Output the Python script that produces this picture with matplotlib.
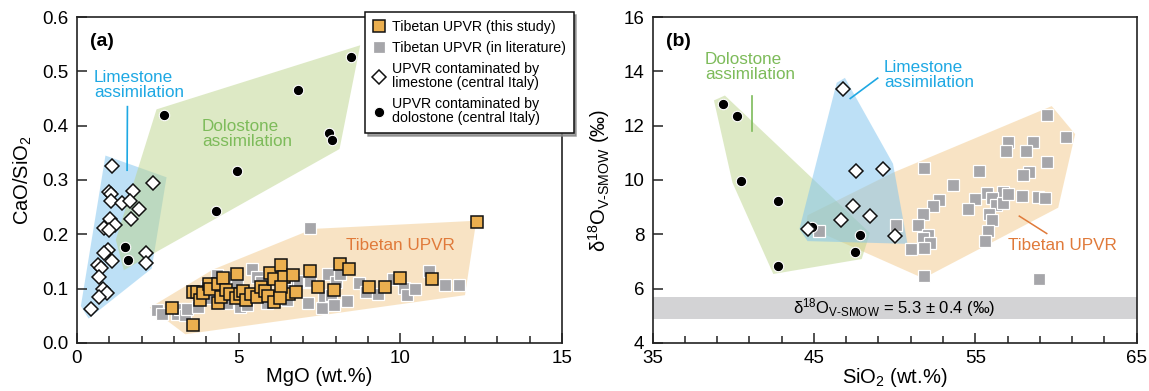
import matplotlib
matplotlib.use("Agg")
import matplotlib.pyplot as plt
from matplotlib.patches import Polygon
from matplotlib.lines import Line2D

plt.rcParams['font.family'] = ['Liberation Sans', 'DejaVu Sans']
plt.rcParams['mathtext.fontset'] = 'custom'
plt.rcParams['mathtext.rm'] = 'Liberation Sans'
plt.rcParams['mathtext.it'] = 'Liberation Sans:italic'
plt.rcParams['mathtext.bf'] = 'Liberation Sans:bold'

# ---------------- Panel (a): CaO/SiO2 vs MgO ----------------
a_study_mgo = [2.93, 3.58, 3.60, 3.71, 3.81, 3.90, 4.07, 4.12, 4.35, 4.52, 4.36, 4.46,
               4.60, 4.74, 4.95, 4.93, 5.05, 5.15, 5.22, 5.37, 5.58, 5.68, 5.83, 5.90,
               5.97, 6.09, 6.30, 6.40, 6.55, 6.67, 6.30, 6.09, 6.28, 6.77, 7.21, 7.45,
               7.96, 8.12, 8.41, 9.03, 9.52, 9.99, 10.97, 12.36]
a_study_ratio = [0.065, 0.033, 0.093, 0.094, 0.080, 0.092, 0.109, 0.100, 0.109, 0.119, 0.073, 0.085,
                 0.098, 0.091, 0.127, 0.083, 0.091, 0.095, 0.080, 0.091, 0.085, 0.103, 0.096, 0.087,
                 0.129, 0.117, 0.143, 0.122, 0.090, 0.125, 0.103, 0.075, 0.083, 0.093, 0.132, 0.103,
                 0.098, 0.145, 0.137, 0.103, 0.103, 0.119, 0.117, 0.223]

a_lit_mgo = [2.46, 2.62, 3.08, 3.19, 3.34, 3.40, 3.73, 4.07, 4.02, 4.33, 4.64, 4.74, 4.95,
             5.00, 5.05, 5.26, 5.42, 5.58, 5.68, 5.89, 6.51, 6.51, 6.82, 6.87, 7.13, 7.18,
             7.21, 7.21, 7.58, 7.63, 7.76, 7.86, 7.96, 8.02, 8.15, 8.35, 8.71, 8.95, 9.31,
             9.78, 10.12, 10.20, 10.44, 10.90, 11.39, 11.81]
a_lit_ratio = [0.060, 0.054, 0.054, 0.063, 0.051, 0.063, 0.066, 0.082, 0.103, 0.125, 0.073, 0.122, 0.112,
               0.082, 0.066, 0.069, 0.137, 0.122, 0.112, 0.073, 0.079, 0.097, 0.112, 0.115, 0.073, 0.112,
               0.211, 0.115, 0.064, 0.086, 0.127, 0.088, 0.069, 0.112, 0.127, 0.077, 0.111, 0.093, 0.091,
               0.117, 0.102, 0.088, 0.099, 0.133, 0.106, 0.106]

a_lime_mgo = [1.08, 2.36, 1.00, 1.06, 1.73, 1.04, 1.39, 1.63, 1.91, 1.68, 1.03, 1.19, 0.85,
              0.98, 0.95, 0.85, 1.08, 0.64, 0.75, 2.13, 2.13, 0.69, 0.80, 0.92, 0.69, 0.44]
a_lime_ratio = [0.325, 0.295, 0.278, 0.275, 0.279, 0.261, 0.257, 0.262, 0.246, 0.229, 0.228, 0.217, 0.211,
                0.208, 0.171, 0.165, 0.151, 0.144, 0.138, 0.165, 0.148, 0.122, 0.100, 0.092, 0.085, 0.062]

a_dolo_mgo = [2.70, 4.95, 8.48, 6.84, 7.78, 7.88, 4.31, 1.47, 1.58]
a_dolo_ratio = [0.419, 0.316, 0.527, 0.465, 0.387, 0.373, 0.243, 0.177, 0.152]

a_field_lime = [(0.12, 0.068), (0.88, 0.345), (2.77, 0.305), (2.31, 0.137), (0.36, 0.045)]
a_field_dolo = [(1.20, 0.190), (2.46, 0.430), (8.76, 0.548), (8.12, 0.357), (1.45, 0.134)]
a_field_tib = [(2.25, 0.065), (3.35, 0.016), (12.0, 0.088), (12.35, 0.225), (7.3, 0.210), (4.2, 0.135)]

# ---------------- Panel (b): d18O vs SiO2 ----------------
b_lit_sio2 = [45.33, 59.46, 60.62, 57.05, 58.60, 56.88, 58.14, 59.43, 51.82, 55.23, 58.35, 57.98,
              53.60, 52.75, 55.71, 56.74, 57.88, 58.91, 54.98, 52.36, 51.74, 51.47, 52.09, 51.74,
              52.19, 51.82, 51.01, 50.08, 51.82, 58.97, 54.57, 56.02, 56.28, 56.70, 57.05, 59.32,
              55.87, 56.06, 55.77, 55.60]
b_lit_d18o = [8.11, 12.40, 11.57, 11.41, 11.41, 11.05, 11.05, 10.67, 10.46, 10.34, 10.30, 10.19,
              9.80, 9.28, 9.51, 9.56, 9.41, 9.39, 9.31, 9.06, 8.73, 8.36, 7.99, 7.87,
              7.68, 7.50, 7.47, 8.36, 6.47, 6.36, 8.95, 9.35, 9.07, 9.16, 9.47, 9.35,
              8.76, 8.52, 8.14, 7.74]

b_lime_sio2 = [46.82, 47.58, 49.30, 47.44, 48.47, 46.65, 44.65, 50.02]
b_lime_d18o = [13.36, 10.32, 10.42, 9.06, 8.67, 8.54, 8.20, 7.93]

b_dolo_sio2 = [39.34, 40.21, 40.46, 42.75, 42.79, 47.85, 47.54, 44.86]
b_dolo_d18o = [12.78, 12.37, 9.95, 9.22, 6.84, 7.98, 7.35, 8.26]

b_field_lime = [(46.41, 13.58), (46.92, 13.76), (49.9, 10.6), (50.8, 7.65), (44.6, 7.75), (44.1, 8.2)]
b_field_dolo = [(38.8, 12.93), (39.48, 13.11), (48.47, 8.05), (47.96, 7.09), (42.48, 6.54), (39.95, 9.9)]
b_field_tib = [(44.6, 8.7), (49.9, 10.27), (59.74, 12.72), (61.19, 11.69), (60.14, 8.98),
               (51.78, 6.38), (44.5, 8.3)]

mantle_d18o = 5.3
mantle_sd = 0.4

# colours
c_orange = '#ebaf4f'
c_grey = '#a6a6aa'
c_blue_fill = '#7cc3ef'
c_green_fill = '#bcd48c'
c_orange_fill = '#f2c98a'
c_blue_txt = '#1ea8e3'
c_green_txt = '#7dbb5a'
c_orange_txt = '#e07a3a'

fig = plt.figure(figsize=(11.49, 3.91), dpi=100)
ax1 = fig.add_axes([0.0670, 0.1228, 0.4221, 0.8337])
ax2 = fig.add_axes([0.5680, 0.1228, 0.4212, 0.8337])


def style_axes(ax):
    for s in ax.spines.values():
        s.set_linewidth(1.2)
        s.set_color('#222222')
    ax.tick_params(which='both', direction='in', labelsize=13.5, width=1.1, color='#222222')
    ax.tick_params(which='major', length=7, pad=5)
    ax.tick_params(which='minor', length=4.8)
    ax.tick_params(axis='y', which='major', length=7.5, pad=6)


def field(ax, pts, color, z):
    ax.add_patch(Polygon(pts, closed=True, facecolor=color, edgecolor='none', alpha=0.5, zorder=z))


sq_study = dict(marker='s', ms=8.5, mfc=c_orange, mec='#111111', mew=1.1, ls='none', zorder=6)
sq_lit = dict(marker='s', ms=8, mfc=c_grey, mec='white', mew=0.9, ls='none', zorder=5)
dia = dict(marker='D', ms=7.2, mfc='white', mec='#111111', mew=1.1, ls='none', zorder=7)
circ = dict(marker='o', ms=7.5, mfc='#000000', mec='white', mew=0.8, ls='none', zorder=7)

ann_fs = 12.3

# ---- panel (a)
field(ax1, a_field_lime, c_blue_fill, 1)
field(ax1, a_field_dolo, c_green_fill, 2)
field(ax1, a_field_tib, c_orange_fill, 1)
ax1.plot(a_lit_mgo, a_lit_ratio, **sq_lit)
ax1.plot(a_study_mgo, a_study_ratio, **sq_study)
ax1.plot(a_lime_mgo, a_lime_ratio, **dia)
ax1.plot(a_dolo_mgo, a_dolo_ratio, **circ)

ax1.set_xlim(0, 15)
ax1.set_ylim(0, 0.6)
ax1.set_xticks([0, 5, 10, 15])
ax1.set_xticks(range(0, 16), minor=True)
ax1.set_yticks([0.0, 0.1, 0.2, 0.3, 0.4, 0.5, 0.6])
ax1.set_yticklabels(['0.0', '0.1', '0.2', '0.3', '0.4', '0.5', '0.6'])
style_axes(ax1)
ax1.set_xlabel('MgO (wt.%)', fontsize=14.5, labelpad=0)
ax1.set_ylabel('CaO/SiO$_2$', fontsize=14.5, labelpad=6)
ax1.text(0.027, 0.925, '(a)', transform=ax1.transAxes, fontsize=14, fontweight='bold', va='center')

ax1.text(0.52, 0.475, 'Limestone\nassimilation', color=c_blue_txt, fontsize=ann_fs,
         va='center', ha='left', linespacing=1.0, zorder=8)
ax1.plot([1.56, 1.55], [0.435, 0.318], color=c_blue_txt, lw=1.2, zorder=8)
ax1.text(3.86, 0.385, 'Dolostone\nassimilation', color=c_green_txt, fontsize=ann_fs,
         va='center', ha='left', linespacing=1.0, zorder=8)
ax1.text(10.0, 0.18, 'Tibetan UPVR', color=c_orange_txt, fontsize=ann_fs,
         va='center', ha='center', zorder=8)

# ---- panel (b)
ax2.axhspan(mantle_d18o - mantle_sd, mantle_d18o + mantle_sd, color='#d3d3d5', zorder=0, lw=0)
ax2.text(50.0, mantle_d18o, '\u03b4$^{18}$O$_{\\mathrm{V\u2010SMOW}}$ = 5.3 \u00b1 0.4 (\u2030)',
         fontsize=12, ha='center', va='center', zorder=8)
field(ax2, b_field_tib, c_orange_fill, 1)
field(ax2, b_field_dolo, c_green_fill, 2)
field(ax2, b_field_lime, c_blue_fill, 3)
ax2.plot(b_lit_sio2, b_lit_d18o, **sq_lit)
ax2.plot(b_dolo_sio2, b_dolo_d18o, **circ)
ax2.plot(b_lime_sio2, b_lime_d18o, **dia)

ax2.set_xlim(35, 65)
ax2.set_ylim(4, 16)
ax2.set_xticks([35, 45, 55, 65])
ax2.set_xticks(range(35, 66, 2), minor=True)
ax2.set_yticks(range(4, 17, 2))
style_axes(ax2)
ax2.set_xlabel('SiO$_2$ (wt.%)', fontsize=14.5, labelpad=-1)
ax2.set_ylabel('\u03b4$^{18}$O$_{\\mathrm{V\u2010SMOW}}$ (\u2030)', fontsize=14.5, labelpad=8)
ax2.text(0.027, 0.925, '(b)', transform=ax2.transAxes, fontsize=14, fontweight='bold', va='center')

ax2.text(38.25, 14.15, 'Dolostone\nassimilation', color=c_green_txt, fontsize=ann_fs,
         va='center', ha='left', linespacing=1.0, zorder=8)
ax2.plot([41.18, 41.18], [13.11, 11.81], color=c_green_txt, lw=1.2, zorder=8)
ax2.text(49.34, 13.85, 'Limestone\nassimilation', color=c_blue_txt, fontsize=ann_fs,
         va='center', ha='left', linespacing=1.0, zorder=8)
ax2.plot([47.25, 48.95], [13.0, 13.75], color=c_blue_txt, lw=1.2, zorder=8)
ax2.text(57.05, 7.58, 'Tibetan UPVR', color=c_orange_txt, fontsize=ann_fs,
         va='center', ha='left', zorder=8)
ax2.plot([57.73, 59.43], [8.67, 8.03], color=c_orange_txt, lw=1.1, zorder=8)

# ---- legend
handles = [
    Line2D([], [], marker='s', ms=8.5, mfc=c_orange, mec='#111111', mew=1.1, ls='none'),
    Line2D([], [], marker='s', ms=8, mfc=c_grey, mec='white', mew=0.9, ls='none'),
    Line2D([], [], marker='D', ms=7.2, mfc='white', mec='#111111', mew=1.1, ls='none'),
    Line2D([], [], marker='o', ms=7.5, mfc='#000000', mec='white', mew=0.8, ls='none'),
]
labels = ['Tibetan UPVR (this study)', 'Tibetan UPVR (in literature)',
          'UPVR contaminated by\nlimestone (central Italy)',
          'UPVR contaminated by\ndolostone (central Italy)']
leg = fig.legend(handles, labels, loc='upper left', bbox_to_anchor=(0.3177, 0.969),
                 bbox_transform=fig.transFigure, fontsize=10.2, frameon=True, fancybox=False,
                 shadow={'color': '#888888', 'alpha': 0.8}, borderpad=0.55, labelspacing=0.5,
                 handlelength=0.9, handletextpad=0.45, borderaxespad=0)
leg.get_frame().set_edgecolor('#111111')
leg.get_frame().set_linewidth(1.1)
for t in leg.get_texts():
    t.set_linespacing(1.0)
leg.set_zorder(20)

fig.savefig('out.png', dpi=100)
